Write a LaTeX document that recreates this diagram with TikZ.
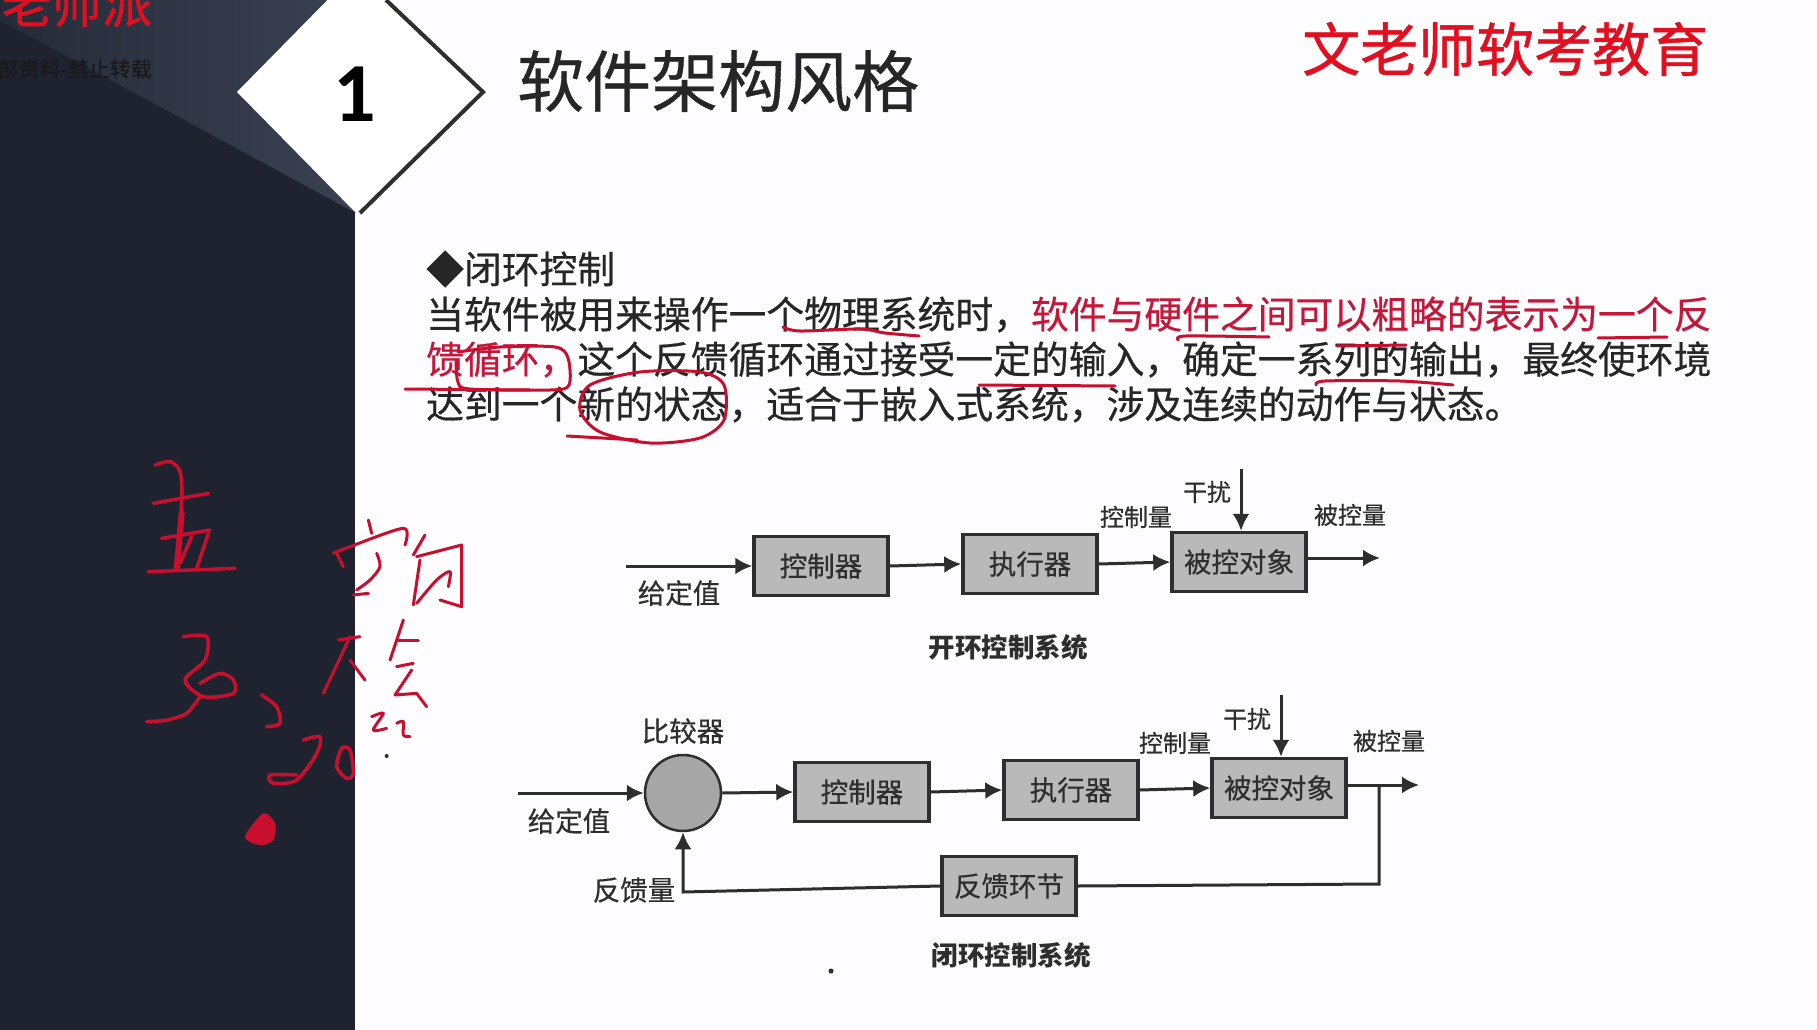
\documentclass[tikz,border=0pt]{standalone}
\usepackage{fontspec}
\setmainfont{Noto Sans CJK SC}
\newfontfamily\latinbold{Carlito}[BoldFont=Carlito Bold]
\newfontfamily\scanfont{Noto Sans CJK SC}[FakeBold=0.5]
\newfontfamily\brandfont{Noto Sans CJK SC}[FakeBold=0.9]
\usetikzlibrary{arrows.meta,shapes.geometric}
\definecolor{pagebg}{HTML}{FDFCFE}
\definecolor{paneldark}{HTML}{1F2330}
\definecolor{panelmidl}{HTML}{262B39}
\definecolor{panelmidr}{HTML}{3A4152}
\definecolor{redtxt}{HTML}{E01020}
\definecolor{crimson}{HTML}{C4173A}
\definecolor{inkred}{HTML}{C80F2E}
\definecolor{boxfill}{HTML}{B9B9B9}
\definecolor{ink}{HTML}{2E2E2E}
\tikzset{
  bodytext/.style={anchor=west,inner sep=0pt,font=\fontsize{37.8}{38}\scanfont\selectfont,text=black!85},
  ctrlbox/.style={draw=ink,line width=3.5pt,fill=boxfill,minimum width=134pt,minimum height=59pt,inner sep=0pt,font=\fontsize{27.5}{28}\scanfont\selectfont,text=ink},
  cmpr/.style={circle,draw=ink,line width=2.5pt,fill=boxfill!90!black,minimum size=76pt,inner sep=0pt},
  lab/.style={inner sep=0pt,font=\fontsize{24}{25}\scanfont\selectfont,text=ink},
  labbig/.style={inner sep=0pt,font=\fontsize{27.5}{28}\scanfont\selectfont,text=ink},
  captext/.style={inner sep=0pt,font=\fontsize{26.5}{27}\bfseries\selectfont,text=ink},
  link/.style={draw=ink,line width=3pt},
  arrowlink/.style={link,-{Latex[length=17pt,width=17pt]}},
  hand/.style={draw=inkred,line width=3pt,line cap=round,line join=round},
  handw/.style={draw=inkred,line width=3.5pt,line cap=round,line join=round}
}
\begin{document}
\begin{tikzpicture}[x=1pt,y=-1pt]
\useasboundingbox (0,0) rectangle (1817,1030);
\begin{scope}
\clip (0,0) rectangle (1817,1030);
\fill[pagebg] (0,0) rectangle (1817,1030);
% panel
\fill[paneldark] (0,0) rectangle (355,1030);
\shade[left color=panelmidl,right color=panelmidr] (0,0) -- (332,0) -- (237,92) -- (356,213) -- (0,20) -- cycle;
% diamond
\fill[white] (356,-29) -- (483,92) -- (356,213) -- (237,92) -- cycle;
\draw[ink,line width=4pt] (386,0) -- (483,92) -- (360,213);
\node[inner sep=0pt,font=\fontsize{84}{84}\latinbold\bfseries\selectfont,text=black] (num) at (355,94) {1};
\node[anchor=west,inner sep=0pt,font=\fontsize{67}{67}\scanfont\selectfont,text=black!85] (title) at (517,81) {软件架构风格};
\node[anchor=west,inner sep=0pt,font=\fontsize{58}{58}\brandfont\selectfont,text=redtxt] (brand) at (1302,49) {文老师软考教育};
\node[anchor=east,inner sep=0pt,font=\fontsize{50}{50}\brandfont\selectfont,text=redtxt] (brandtop) at (152,4) {老师派};
\node[anchor=east,inner sep=0pt,font=\fontsize{21}{21}\scanfont\selectfont,text=black!90] (water) at (152,69) {内部资料-禁止转载};
% body text
\node[bodytext] (head) at (426,269) {◆闭环控制};
\node[bodytext] (l1) at (426,314.5) {当软件被用来操作一个物理系统时，\textcolor{crimson}{软件与硬件之间可以粗略的表示为一个反}};
\node[bodytext] (l2) at (426,359.5) {\textcolor{crimson}{馈循环，}这个反馈循环通过接受一定的输入，确定一系列的输出，最终使环境};
\node[bodytext] (l3) at (426,404.5) {达到一个新的状态，适合于嵌入式系统，涉及连续的动作与状态。};
% pen marks on text
\draw[hand] plot[smooth] coordinates {(783,327) (800,331) (860,329) (885,333) (919,336)};
\draw[hand] plot[smooth] coordinates {(1178,340) (1186,336) (1269,337)};
\draw[hand] (1598,338) -- (1667,337);
\draw[hand] (1337,346) -- (1406,345);
\draw[hand] plot[smooth] coordinates {(1316,385) (1325,381) (1400,381) (1453,385)};
\draw[hand] (979,385) -- (1115,386);
\draw[hand] plot[smooth] coordinates {(458,352) (500,347) (555,347) (568,358) (569,385) (550,390) (470,389) (458,382) (456,360)};
\draw[hand] (405,389) -- (530,390);
\draw[hand] plot[smooth cycle] coordinates {(640,372) (700,372) (724,385) (724,420) (700,438) (650,443) (600,432) (580,410) (590,385)};
\draw[hand] (567,436) -- (637,440);
% open loop
\coordinate (oin) at (626,566);
\node[ctrlbox] (oc) at (821,566) {控制器};
\node[ctrlbox] (oa) at (1030,564) {执行器};
\node[ctrlbox] (op) at (1239,562) {被控对象};
\coordinate (oout) at (1380,558);
\coordinate (odist) at (1241,469);
\draw[arrowlink] (oin) -- (oc.west);
\draw[arrowlink] (oc.east) -- (oa.west);
\draw[arrowlink] (oa.east) -- (op.west);
\draw[arrowlink] (op.east |- oout) -- (oout);
\draw[arrowlink] (odist) -- (odist |- op.north);
\node[labbig] (o1) at (679,593) {给定值};
\node[lab] (o2) at (1136,517) {控制量};
\node[lab] (o3) at (1207,492) {干扰};
\node[lab] (o4) at (1350,515) {被控量};
\node[captext] (ocap) at (1008,647) {开环控制系统};
% closed loop
\coordinate (cin) at (518,793);
\node[cmpr] (cmp) at (683,793) {};
\node[ctrlbox] (cc) at (862,792) {控制器};
\node[ctrlbox] (ca) at (1071,790) {执行器};
\node[ctrlbox] (cp) at (1279,788) {被控对象};
\node[ctrlbox] (cf) at (1009,886) {反馈环节};
\coordinate (cout) at (1419,785);
\coordinate (cdist) at (1281,695);
\coordinate (cbr) at (1379,785);
\coordinate (cbr2) at (1379,884);
\coordinate (cfl) at (683,892);
\draw[arrowlink] (cin) -- (cmp.west);
\draw[arrowlink] (cmp.east) -- (cc.west);
\draw[arrowlink] (cc.east) -- (ca.west);
\draw[arrowlink] (ca.east) -- (cp.west);
\draw[arrowlink] (cp.east |- cout) -- (cout);
\draw[arrowlink] (cdist) -- (cdist |- cp.north);
\draw[link] (cbr) -- (cbr2) -- (cf.east);
\draw[arrowlink] (cf.west) -- (cfl) -- (cmp.south);
\node[labbig] (c0) at (683,731) {比较器};
\node[labbig] (c1) at (569,821) {给定值};
\node[labbig] (c2) at (634,890) {反馈量};
\node[lab] (c3) at (1175,743) {控制量};
\node[lab] (c4) at (1247,719) {干扰};
\node[lab] (c5) at (1389,741) {被控量};
\node[captext] (ccap) at (1011,955) {闭环控制系统};
\fill[ink] (831,971) circle (2.5pt);
% handwriting
\begin{scope}[xshift=120pt,yshift=-440pt,x=0.33333pt,y=-0.33333pt]
\draw[handw] plot[smooth] coordinates {(105,75) (150,65) (180,95) (185,180) (170,390)};
\draw[handw,line width=6pt] (185,220) -- (170,385);
\draw[handw] (100,190) -- (265,160);
\draw[handw] (125,295) -- (270,270);
\draw[handw] (265,280) -- (230,385);
\draw[handw] (215,290) -- (180,370);
\draw[handw] (85,395) -- (345,385);
\draw[handw] plot[smooth] coordinates {(190,590) (260,590) (255,660) (195,720) (250,770) (340,760) (340,720) (300,700) (240,730)};
\draw[handw] plot[smooth] coordinates {(240,770) (200,820) (140,840) (80,845)};
\draw[handw] plot[smooth] coordinates {(425,765) (470,800) (480,850) (440,860)};
\draw[handw] plot[smooth] coordinates {(550,900) (600,890) (590,940) (530,1020) (460,1030) (450,1005) (530,1005)};
\draw[handw] plot[smooth cycle] coordinates {(665,925) (650,980) (680,1015) (700,1000) (690,930)};
\fill[inkred] plot[smooth cycle] coordinates {(375,1190) (430,1120) (465,1150) (460,1200) (420,1215)};
\draw[hand] (745,240) -- (755,280);
\draw[hand] plot[smooth] coordinates {(640,340) (690,320) (850,265) (855,315)};
\draw[hand] (650,340) -- (670,380);
\draw[hand] plot[smooth] coordinates {(770,340) (780,380) (750,420) (710,450)};
\draw[hand] (700,465) -- (745,460);
\draw[hand] (915,285) -- (880,345);
\draw[hand] (900,360) -- (880,495);
\draw[hand] (890,350) -- (1025,315) -- (1025,500) -- (960,480);
\draw[hand] plot[smooth] coordinates {(890,490) (950,420) (990,395) (985,440)};
\draw[hand] (655,600) -- (720,590);
\draw[hand] (690,590) -- (610,760);
\draw[hand] (690,660) -- (735,720);
\draw[hand] (850,540) -- (810,660);
\draw[hand] (835,600) -- (895,600);
\draw[hand] (830,680) -- (880,670);
\draw[hand] (875,690) -- (825,765) -- (890,760) -- (920,800);
\draw[hand] plot[smooth] coordinates {(755,830) (790,820) (760,870) (800,865)};
\draw[hand] plot[smooth] coordinates {(830,850) (850,845) (850,885) (870,890)};
\fill[ink] (800,948) circle (6);
\end{scope}
\end{scope}
\end{tikzpicture}
\end{document}
